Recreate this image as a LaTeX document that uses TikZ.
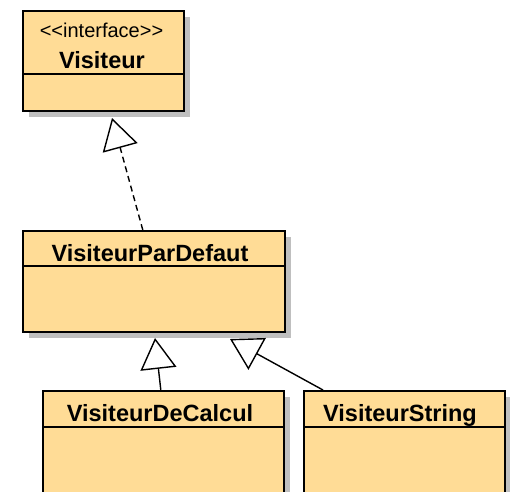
\documentclass[tikz,border=0pt]{standalone}
\usepackage{fontspec}
\setmainfont{Liberation Sans}
\usetikzlibrary{arrows.meta,shadows}
\definecolor{clsfill}{RGB}{255,220,150}
\begin{document}
\begin{tikzpicture}[x=1pt,y=-1pt,
  cls/.style={draw=black, line width=1.6pt, fill=clsfill, anchor=north west, inner sep=0pt,
    drop shadow={shadow xshift=6pt, shadow yshift=-6pt, fill=black!25, opacity=1}},
  title/.style={font=\fontsize{23.5}{27}\selectfont\bfseries, anchor=base, inner sep=0pt},
  stereo/.style={font=\fontsize{20}{22}\selectfont, anchor=base, inner sep=0pt},
  divider/.style={line width=1.6pt},
  gen/.style={line width=1.4pt, -{Triangle[open, length=31pt, width=36pt]}},
]
\useasboundingbox (0,0) rectangle (510,491);
\fill[white] (0,0) rectangle (510,491);

% classes
\node[cls, minimum width=161pt, minimum height=100pt] (vis) at (22,10) {};
\node[cls, minimum width=262pt, minimum height=101pt] (vpd) at (22,230) {};
\node[cls, minimum width=241pt, minimum height=120pt] (vdc) at (42,390) {};
\node[cls, minimum width=201pt, minimum height=120pt] (vs) at (303,390) {};

% dividers
\draw[divider] (22,74) -- (183,74);
\draw[divider] (22,266) -- (284,266);
\draw[divider] (42,427) -- (283,427);
\draw[divider] (303,427) -- (504,427);

% texts
\node[stereo] (visst) at (101.5,37) {<\kern0pt<interface>\kern0pt>};
\node[title] (visname) at (102,68) {Visiteur};
\node[title] (vpdname) at (150,261) {VisiteurParDefaut};
\node[title] (vdcname) at (160,421) {VisiteurDeCalcul};
\node[title] (vsname) at (400,421) {VisiteurString};

% arrow tips
\coordinate (t1) at (112,118);
\coordinate (t2) at (155,338);
\coordinate (t3) at (230,339);

% connectors
\draw[gen, dash pattern=on 6pt off 4pt] ([xshift=-11pt]vpd.north) -- (t1);
\draw[gen] ([xshift=-2.5pt]vdc.north) -- (t2);
\draw[gen] ([xshift=20pt]vs.north west) -- (t3);
\end{tikzpicture}
\end{document}
